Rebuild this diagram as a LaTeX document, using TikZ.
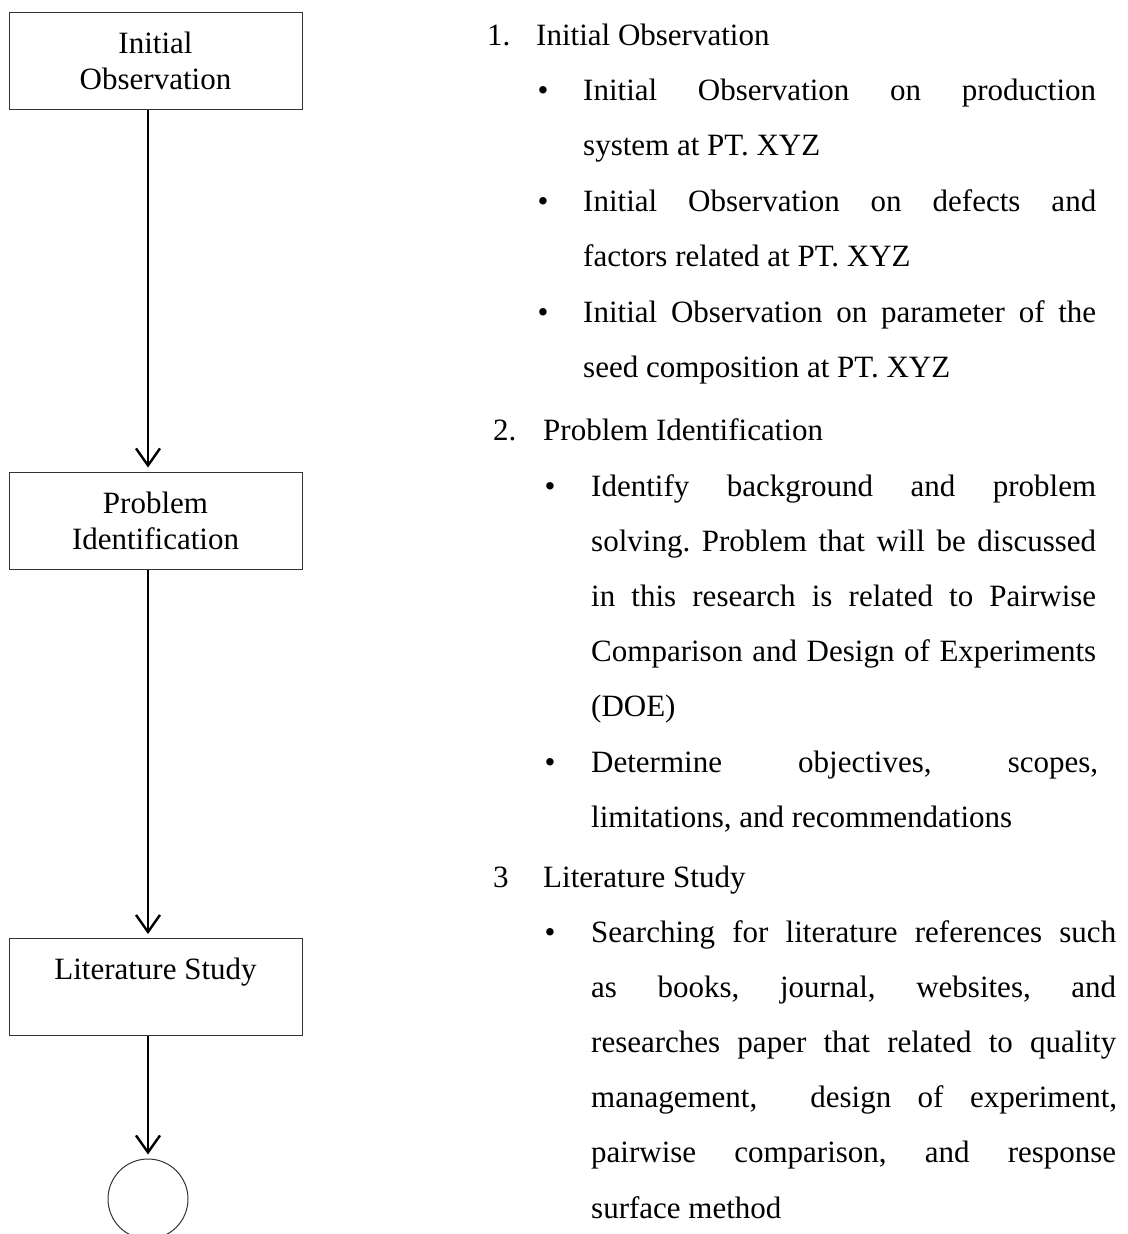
\documentclass[tikz,border=0pt]{standalone}
\usepackage{fontspec}
\setmainfont{Liberation Serif}
\usetikzlibrary{arrows.meta}
\newcommand\txtsize{\fontsize{31}{36}\selectfont}
\newcommand\jl[2]{\makebox[#1pt][s]{#2}}
\frenchspacing
\begin{document}
\begin{tikzpicture}[x=1pt,y=-1pt,
  boxnode/.style={draw=black!80,line width=1pt,minimum width=293pt,minimum height=97pt,inner sep=0pt,align=center,font=\txtsize},
  arr/.style={line width=2.4pt,-{Straight Barb[length=17pt,width=24pt]},shorten >=4pt},
  ln/.style={anchor=base west,inner sep=0pt,font=\txtsize},
  bul/.style={anchor=base,inner sep=0pt,font=\txtsize}]
\useasboundingbox (0,0) rectangle (1127,1234);

% flow boxes
\node[boxnode] (b1) at (155.5,60.5) {Initial\\Observation};
\node[boxnode] (b2) at (155.5,520.5) {Problem\\Identification};
\node[boxnode] (b3) at (155.5,987) {Literature Study\\\phantom{X}};
\node[draw=black!80,line width=1pt,circle,minimum size=80pt,inner sep=0pt] (c) at (148,1199) {};
\coordinate (ax) at (148,0);

\draw[arr] (b1.south -| ax) -- (b2.north -| ax);
\draw[arr] (b2.south -| ax) -- (b3.north -| ax);
\draw[arr] (b3.south -| ax) -- (c.north);

% item 1
\node[ln] (n1) at (487,45) {1.};
\node[ln] (h1) at (536,45) {Initial Observation};
\node[bul] (p1) at (543,100) {•};
\node[ln] (t1) at (583,100) {\jl{513}{Initial Observation on production}};
\node[ln] (t2) at (583,155.5) {system at PT. XYZ};
\node[bul] (p2) at (543,211) {•};
\node[ln] (t3) at (583,211) {\jl{513}{Initial Observation on defects and}};
\node[ln] (t4) at (583,266.5) {factors related at PT. XYZ};
\node[bul] (p3) at (543,322) {•};
\node[ln] (t5) at (583,322) {\jl{513}{Initial Observation on parameter of the}};
\node[ln] (t6) at (583,377.5) {seed composition at PT. XYZ};

% item 2
\node[ln] (n2) at (493,440) {2.};
\node[ln] (h2) at (543,440) {Problem Identification};
\node[bul] (p4) at (550,496) {•};
\node[ln] (t7) at (591,496) {\jl{505}{Identify background and problem}};
\node[ln] (t8) at (591,551.2) {\jl{505}{solving. Problem that will be discussed}};
\node[ln] (t9) at (591,606.4) {\jl{505}{in this research is related to Pairwise}};
\node[ln] (t10) at (591,661.6) {\jl{505}{Comparison and Design of Experiments}};
\node[ln] (t11) at (591,716.8) {(DOE)};
\node[bul] (p5) at (550,772) {•};
\node[ln] (t12) at (591,772) {\jl{507}{Determine objectives, scopes,}};
\node[ln] (t13) at (591,827.2) {limitations, and recommendations};

% item 3
\node[ln] (n3) at (493,887) {3};
\node[ln] (h3) at (543,887) {Literature Study};
\node[bul] (p6) at (550,942) {•};
\node[ln] (t14) at (591,942) {\jl{525}{Searching for literature references such}};
\node[ln] (t15) at (591,997.2) {\jl{525}{as books, journal, websites, and}};
\node[ln] (t16) at (591,1052.4) {\jl{525}{researches paper that related to quality}};
\node[ln] (t17) at (591,1107.6) {\jl{526}{management,\ \ design of experiment,}};
\node[ln] (t18) at (591,1162.8) {\jl{525}{pairwise comparison, and response}};
\node[ln] (t19) at (591,1218) {surface method};
\end{tikzpicture}
\end{document}
